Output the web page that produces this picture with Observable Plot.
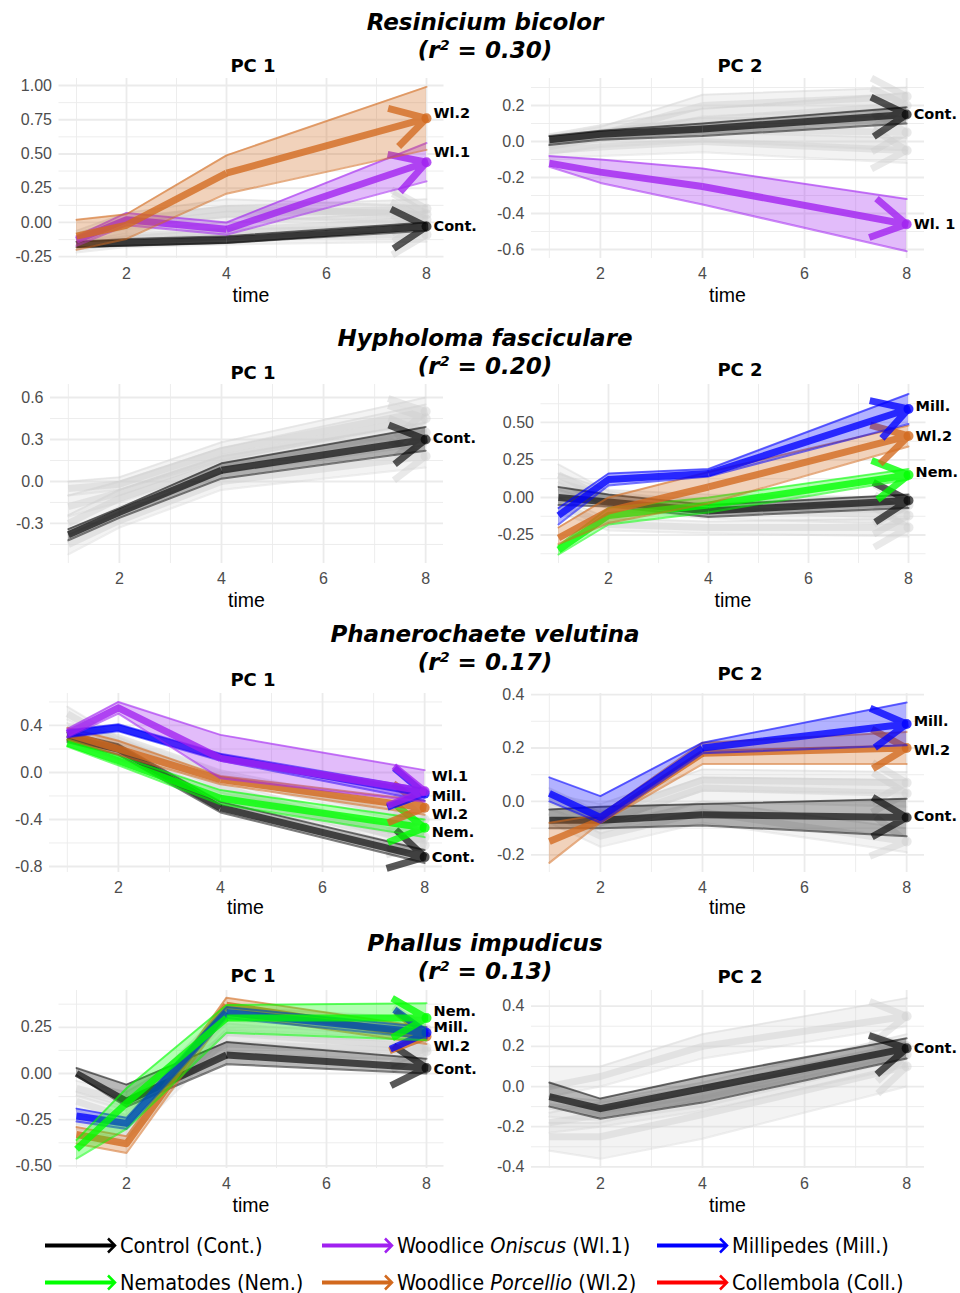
<!DOCTYPE html>
<html><head><meta charset="utf-8">
<script src="https://cdn.jsdelivr.net/npm/d3@7"></script>
<script src="https://cdn.jsdelivr.net/npm/@observablehq/plot@0.6"></script>
<style>
body{margin:0;background:#fff;}
#wrap{position:relative;width:960px;height:1293px;overflow:hidden;font-family:"DejaVu Sans",sans-serif;background:#fff;}
.t{position:absolute;transform:translate(-50%,-50%);white-space:nowrap;line-height:1;}
.sp{font-weight:bold;font-style:italic;font-size:23px;color:#000;}
.sp sup{font-size:62%;vertical-align:0.55em;line-height:0;}
.pc{font-weight:bold;font-size:18px;color:#000;}
.tm{font-family:"Liberation Sans",Arial,sans-serif;font-size:19.5px;color:#000;}
.panel{position:absolute;}
.leg{position:absolute;display:flex;align-items:center;font-family:"DejaVu Sans Condensed","DejaVu Sans",sans-serif;font-stretch:condensed;font-size:21.5px;color:#000;white-space:nowrap;transform:translateY(-50%);}
.leg svg{margin-right:3px;}
</style></head><body><div id="wrap"></div>
<script>
// ---------------- DATA ----------------
const times = [1, 2, 4, 8];
const xTicks = [2, 4, 6, 8];

// Resinicium bicolor (r2 = 0.30)
const rb1_ticks = [-0.25, 0, 0.25, 0.5, 0.75, 1.0];
const rb1_cont = {m:[-0.16,-0.15,-0.13,-0.03], lo:[-0.18,-0.17,-0.15,-0.06], hi:[-0.14,-0.12,-0.10,0.00]};
const rb1_wl1  = {m:[-0.13,0.02,-0.05,0.44], lo:[-0.17,-0.02,-0.09,0.30], hi:[-0.10,0.07,0.00,0.58]};
const rb1_wl2  = {m:[-0.10,-0.02,0.36,0.76], lo:[-0.20,-0.12,0.21,0.53], hi:[0.02,0.06,0.49,0.99]};
const rb1_grey = [
  {m:[-0.12,-0.02,0.06,0.10], lo:[-0.16,-0.07,0.00,0.04], hi:[-0.08,0.03,0.12,0.17]},
  {m:[-0.16,-0.10,-0.06,0.02], lo:[-0.20,-0.15,-0.12,-0.05], hi:[-0.12,-0.05,0.00,0.08]},
  {m:[-0.10,0.02,0.10,0.06], lo:[-0.14,-0.03,0.04,0.00], hi:[-0.06,0.07,0.17,0.12]},
  {m:[-0.18,-0.14,-0.10,-0.09], lo:[-0.22,-0.18,-0.16,-0.14], hi:[-0.14,-0.10,-0.05,-0.02]}
];
const rb1_labels = [{name:"Wl.2", v:0.80}, {name:"Wl.1", v:0.51}, {name:"Cont.", v:-0.03}];

const rb2_ticks = [-0.6, -0.4, -0.2, 0, 0.2];
const rb2_cont = {m:[0.01,0.04,0.07,0.15], lo:[-0.02,0.01,0.03,0.10], hi:[0.03,0.06,0.10,0.19]};
const rb2_wl1  = {m:[-0.12,-0.17,-0.25,-0.46], lo:[-0.14,-0.23,-0.35,-0.61], hi:[-0.08,-0.10,-0.15,-0.32]};
const rb2_grey = [
  {m:[0.00,0.04,0.20,0.25], lo:[-0.03,0.00,0.14,0.18], hi:[0.03,0.08,0.26,0.30]},
  {m:[-0.03,0.02,0.07,0.05], lo:[-0.07,-0.03,0.00,-0.05], hi:[0.01,0.06,0.13,0.14]},
  {m:[-0.05,-0.03,0.00,-0.05], lo:[-0.09,-0.08,-0.06,-0.12], hi:[-0.01,0.02,0.05,0.02]},
  {m:[0.01,0.05,0.12,0.20], lo:[-0.02,0.01,0.06,0.12], hi:[0.04,0.09,0.18,0.27]}
];
const rb2_labels = [{name:"Cont.", v:0.15}, {name:"Wl. 1", v:-0.46}];

// Hypholoma fasciculare (r2 = 0.20)
const hf1_ticks = [-0.3, 0, 0.3, 0.6];
const hf1_cont = {m:[-0.38,-0.22,0.08,0.30], lo:[-0.42,-0.26,0.02,0.22], hi:[-0.34,-0.19,0.13,0.39]};
const hf1_grey = [
  {m:[-0.05,-0.02,0.22,0.50], lo:[-0.10,-0.06,0.15,0.42], hi:[0.00,0.03,0.28,0.60]},
  {m:[-0.18,-0.08,0.17,0.45], lo:[-0.25,-0.15,0.10,0.36], hi:[-0.10,0.00,0.24,0.55]},
  {m:[-0.45,-0.28,0.00,0.18], lo:[-0.52,-0.33,-0.06,0.10], hi:[-0.38,-0.22,0.06,0.26]},
  {m:[-0.30,-0.12,0.12,0.35], lo:[-0.36,-0.18,0.06,0.28], hi:[-0.24,-0.06,0.18,0.42]}
];
const hf1_labels = [{name:"Cont.", v:0.31}];

const hf2_ticks = [-0.25, 0, 0.25, 0.5];
const hf2_cont = {m:[0.00,-0.03,-0.09,-0.02], lo:[-0.05,-0.06,-0.13,-0.07], hi:[0.07,0.02,-0.05,0.02]};
const hf2_mill = {m:[-0.12,0.12,0.16,0.59], lo:[-0.18,0.08,0.14,0.49], hi:[-0.07,0.16,0.19,0.69]};
const hf2_wl2  = {m:[-0.27,-0.09,0.07,0.41], lo:[-0.31,-0.17,-0.04,0.34], hi:[-0.20,0.00,0.17,0.48]};
const hf2_nem  = {m:[-0.35,-0.12,-0.05,0.15], lo:[-0.38,-0.18,-0.10,0.12], hi:[-0.32,-0.07,0.00,0.19]};
const hf2_grey = [
  {m:[0.15,-0.02,-0.08,-0.12], lo:[0.10,-0.08,-0.14,-0.18], hi:[0.22,0.04,-0.03,-0.06]},
  {m:[-0.05,-0.18,-0.20,-0.20], lo:[-0.10,-0.22,-0.24,-0.26], hi:[0.00,-0.14,-0.16,-0.14]},
  {m:[0.10,0.00,-0.03,-0.05], lo:[0.05,-0.05,-0.08,-0.10], hi:[0.16,0.05,0.02,0.00]}
];
const hf2_labels = [{name:"Mill.", v:0.61}, {name:"Wl.2", v:0.41}, {name:"Nem.", v:0.17}];

// Phanerochaete velutina (r2 = 0.17)
const pv1_ticks = [-0.8, -0.4, 0, 0.4];
const pv1_cont = {m:[0.30,0.20,-0.30,-0.72], lo:[0.26,0.15,-0.34,-0.77], hi:[0.34,0.24,-0.25,-0.66]};
const pv1_wl1  = {m:[0.33,0.55,0.12,-0.16], lo:[0.30,0.50,-0.05,-0.25], hi:[0.37,0.60,0.32,0.02]};
const pv1_mill = {m:[0.33,0.38,0.13,-0.18], lo:[0.30,0.35,0.10,-0.24], hi:[0.36,0.41,0.16,-0.14]};
const pv1_wl2  = {m:[0.33,0.20,-0.06,-0.30], lo:[0.28,0.15,-0.10,-0.36], hi:[0.38,0.27,-0.03,-0.24]};
const pv1_nem  = {m:[0.25,0.10,-0.22,-0.47], lo:[0.22,0.06,-0.27,-0.55], hi:[0.28,0.14,-0.15,-0.40]};
const pv1_grey = [
  {m:[0.50,0.25,-0.12,-0.62], lo:[0.45,0.20,-0.17,-0.68], hi:[0.56,0.30,-0.07,-0.56]},
  {m:[0.38,0.28,-0.02,-0.40], lo:[0.34,0.24,-0.06,-0.46], hi:[0.42,0.32,0.02,-0.34]},
  {m:[0.30,0.15,-0.22,-0.55], lo:[0.26,0.11,-0.27,-0.60], hi:[0.34,0.19,-0.17,-0.50]}
];
const pv1_labels = [{name:"Wl.1", v:-0.03}, {name:"Mill.", v:-0.20}, {name:"Wl.2", v:-0.36}, {name:"Nem.", v:-0.51}, {name:"Cont.", v:-0.72}];

const pv2_ticks = [-0.2, 0, 0.2, 0.4];
const pv2_cont = {m:[-0.07,-0.07,-0.05,-0.06], lo:[-0.10,-0.10,-0.09,-0.13], hi:[-0.03,-0.02,-0.01,0.01]};
const pv2_mill = {m:[0.03,-0.06,0.20,0.29], lo:[0.00,-0.08,0.18,0.21], hi:[0.09,0.02,0.22,0.37]};
const pv2_wl2  = {m:[-0.15,-0.07,0.18,0.20], lo:[-0.23,-0.08,0.14,0.14], hi:[-0.08,-0.05,0.22,0.26]};
const pv2_grey = [
  {m:[0.02,-0.08,0.05,0.03], lo:[-0.02,-0.12,0.00,-0.02], hi:[0.05,-0.04,0.09,0.08]},
  {m:[-0.04,-0.13,-0.04,-0.15], lo:[-0.08,-0.17,-0.08,-0.19], hi:[0.00,-0.09,0.00,-0.10]},
  {m:[0.00,-0.05,0.08,0.07], lo:[-0.03,-0.09,0.04,0.03], hi:[0.03,-0.01,0.12,0.11]}
];
const pv2_labels = [{name:"Mill.", v:0.30}, {name:"Wl.2", v:0.19}, {name:"Cont.", v:-0.056}];

// Phallus impudicus (r2 = 0.13)
const pi1_ticks = [-0.5, -0.25, 0, 0.25];
const pi1_cont = {m:[0.00,-0.15,0.10,0.03], lo:[-0.01,-0.18,0.05,0.00], hi:[0.03,-0.06,0.17,0.08]};
const pi1_nem  = {m:[-0.41,-0.16,0.30,0.30], lo:[-0.46,-0.30,0.22,0.18], hi:[-0.36,-0.08,0.37,0.38]};
const pi1_mill = {m:[-0.23,-0.27,0.33,0.22], lo:[-0.26,-0.30,0.30,0.19], hi:[-0.19,-0.24,0.36,0.25]};
const pi1_wl2  = {m:[-0.33,-0.38,0.37,0.20], lo:[-0.38,-0.43,0.32,0.16], hi:[-0.29,-0.34,0.41,0.25]};
const pi1_grey = [
  {m:[-0.15,-0.24,0.30,0.24], lo:[-0.20,-0.30,0.24,0.18], hi:[-0.10,-0.18,0.36,0.30]},
  {m:[-0.26,-0.32,0.22,0.14], lo:[-0.30,-0.36,0.17,0.09], hi:[-0.22,-0.28,0.27,0.19]},
  {m:[-0.08,-0.15,0.16,0.12], lo:[-0.12,-0.20,0.11,0.07], hi:[-0.04,-0.10,0.21,0.17]}
];
const pi1_labels = [{name:"Nem.", v:0.335}, {name:"Mill.", v:0.25}, {name:"Wl.2", v:0.146}, {name:"Cont.", v:0.02}];

const pi2_ticks = [-0.4, -0.2, 0, 0.2, 0.4];
const pi2_cont = {m:[-0.05,-0.11,-0.01,0.19], lo:[-0.10,-0.16,-0.08,0.14], hi:[0.02,-0.06,0.05,0.24]};
const pi2_grey = [
  {m:[0.00,0.05,0.20,0.35], lo:[-0.05,0.00,0.14,0.30], hi:[0.10,0.10,0.26,0.44]},
  {m:[-0.25,-0.25,-0.14,0.10], lo:[-0.32,-0.36,-0.26,0.00], hi:[-0.18,-0.18,-0.06,0.16]},
  {m:[-0.10,-0.12,-0.04,0.20], lo:[-0.15,-0.17,-0.10,0.14], hi:[-0.05,-0.07,0.02,0.26]},
  {m:[-0.18,-0.14,-0.06,0.16], lo:[-0.23,-0.20,-0.12,0.10], hi:[-0.13,-0.08,0.00,0.22]}
];
const pi2_labels = [{name:"Cont.", v:0.19}];

// Legend
const legendNames = ["Control (Cont.)", "Woodlice <i>Oniscus</i> (Wl.1)", "Millipedes (Mill.)",
                     "Nematodes (Nem.)", "Woodlice <i>Porcellio</i> (Wl.2)", "Collembola (Coll.)"];
const species = ["Resinicium bicolor", "Hypholoma fasciculare", "Phanerochaete velutina", "Phallus impudicus"];
const r2 = ["0.30", "0.20", "0.17", "0.13"];

// ---------------- STYLE ----------------
const COL = {cont:"#000000", wl1:"#A020F0", mill:"#0000FF", nem:"#00FF00", wl2:"#D2691E", coll:"#FF0000", grey:"#cfcfcf"};
const legendColors = [COL.cont, COL.wl1, COL.mill, COL.nem, COL.wl2, COL.coll];

function rows(g){ return times.map((t,i)=>({t, m:g.m[i], lo:g.lo[i], hi:g.hi[i]})); }

function groupMarks(g, color, kind){
  const st = kind === "grey" ? {fo:0.25, eo:0.35, mo:0.45}
           : kind === "cont" ? {fo:0.28, eo:0.5, mo:0.65}
           : {fo:0.3, eo:0.55, mo:0.78};
  const d = rows(g);
  const n = d.length;
  const seg = [{x1:d[n-2].t, y1:d[n-2].m, x2:d[n-1].t, y2:d[n-1].m}];
  return [
    Plot.areaY(d, {x:"t", y1:"lo", y2:"hi", fill:color, fillOpacity:st.fo}),
    Plot.line(d, {x:"t", y:"lo", stroke:color, strokeOpacity:st.eo, strokeWidth:2}),
    Plot.line(d, {x:"t", y:"hi", stroke:color, strokeOpacity:st.eo, strokeWidth:2}),
    Plot.line(d.slice(0, n-1), {x:"t", y:"m", stroke:color, strokeOpacity:st.mo, strokeWidth:7, strokeLinecap:"butt"}),
    Plot.arrow(seg, {x1:"x1", y1:"y1", x2:"x2", y2:"y2", stroke:color, strokeOpacity:st.mo, strokeWidth:7, headLength:8.5, headAngle:60, strokeLinecap:"butt", strokeLinejoin:"miter"}),
    Plot.dot([d[n-1]], {x:"t", y:"m", r:5, fill:color, fillOpacity:st.mo})
  ];
}

function minorOf(ticks, dom){
  const step = ticks[1]-ticks[0];
  const out = [];
  for (let v = ticks[0]-step/2; v <= ticks[ticks.length-1]+step/2+1e-9; v += step) if (v >= dom[0] && v <= dom[1]) out.push(v);
  return out;
}

const wrap = document.getElementById("wrap");

function panel(cfg){
  const {left, top, bottom, L, R, dom, ticks, dec, grey, groups, labels} = cfg;
  const mt = 10, mb = 32;
  const marks = [
    Plot.ruleY(minorOf(ticks, dom), {stroke:"#ebebeb", strokeWidth:0.9}),
    Plot.ruleX([1,3,5,7], {stroke:"#ebebeb", strokeWidth:0.9}),
    Plot.ruleY(ticks, {stroke:"#ebebeb", strokeWidth:1.8}),
    Plot.ruleX(xTicks, {stroke:"#ebebeb", strokeWidth:1.8}),
    Plot.axisY({ticks, tickFormat:d=>d.toFixed(dec), tickSize:0, tickPadding:7, label:null, fontSize:16, color:"#4d4d4d"}),
    Plot.axisX({ticks:xTicks, tickFormat:d=>String(d), tickSize:0, tickPadding:9, label:null, fontSize:16, color:"#4d4d4d"})
  ];
  for (const g of grey) marks.push(...groupMarks(g, COL.grey, "grey"));
  for (const [g, key] of groups) marks.push(...groupMarks(g, COL[key], key === "cont" ? "cont" : "col"));
  marks.push(Plot.text(labels, {x:()=>8, y:"v", text:"name", dx:7, textAnchor:"start", fontWeight:"bold", fontSize:14.5, fill:"#000", fontFamily:"DejaVu Sans"}));
  const svg = Plot.plot({
    width: 480, height: (bottom - top) + mt + mb,
    marginLeft: L - left, marginRight: 480 - (R - left), marginTop: mt, marginBottom: mb,
    x: {domain:[0.65, 8.35]}, y: {domain: dom},
    style: {fontFamily:'"Liberation Sans", Arial, sans-serif', fontSize:"16px", overflow:"visible", background:"transparent"},
    marks
  });
  const div = document.createElement("div");
  div.className = "panel";
  div.style.left = left + "px";
  div.style.top = (top - mt) + "px";
  div.appendChild(svg);
  wrap.appendChild(div);
}

function txt(cls, html, x, y){
  const d = document.createElement("div");
  d.className = "t " + cls; d.innerHTML = html;
  d.style.left = x + "px"; d.style.top = y + "px";
  wrap.appendChild(d);
}

// rows of panels
const rowsCfg = [
  {top:78, bottom:258, tY:[22,50], pcY:[66,66], timeY:296},
  {top:384, bottom:563, tY:[338,366], pcY:[373,370], timeY:601},
  {top:693, bottom:872, tY:[634,662], pcY:[680,674], timeY:908},
  {top:990, bottom:1168, tY:[943,971], pcY:[976,977], timeY:1206}
];

const panels = [
  {row:0, left:0, L:58.5, R:443.5, dom:[-0.263,1.051], ticks:rb1_ticks, dec:2, grey:rb1_grey, groups:[[rb1_cont,"cont"],[rb1_wl1,"wl1"],[rb1_wl2,"wl2"]], labels:rb1_labels},
  {row:0, left:480, L:531, R:924, dom:[-0.65,0.35], ticks:rb2_ticks, dec:1, grey:rb2_grey, groups:[[rb2_cont,"cont"],[rb2_wl1,"wl1"]], labels:rb2_labels},
  {row:1, left:0, L:50, R:443, dom:[-0.586,0.693], ticks:hf1_ticks, dec:1, grey:hf1_grey, groups:[[hf1_cont,"cont"]], labels:hf1_labels},
  {row:1, left:480, L:540.5, R:925.5, dom:[-0.44,0.753], ticks:hf2_ticks, dec:2, grey:hf2_grey, groups:[[hf2_cont,"cont"],[hf2_nem,"nem"],[hf2_wl2,"wl2"],[hf2_mill,"mill"]], labels:hf2_labels},
  {row:2, left:0, L:49, R:442, dom:[-0.851,0.672], ticks:pv1_ticks, dec:1, grey:pv1_grey, groups:[[pv1_cont,"cont"],[pv1_nem,"nem"],[pv1_wl2,"wl2"],[pv1_mill,"mill"],[pv1_wl1,"wl1"]], labels:pv1_labels},
  {row:2, left:480, L:531, R:924, dom:[-0.266,0.404], ticks:pv2_ticks, dec:1, grey:pv2_grey, groups:[[pv2_cont,"cont"],[pv2_wl2,"wl2"],[pv2_mill,"mill"]], labels:pv2_labels},
  {row:3, left:0, L:58.5, R:443.5, dom:[-0.514,0.449], ticks:pi1_ticks, dec:2, grey:pi1_grey, groups:[[pi1_cont,"cont"],[pi1_wl2,"wl2"],[pi1_mill,"mill"],[pi1_nem,"nem"]], labels:pi1_labels},
  {row:3, left:480, L:531, R:924, dom:[-0.408,0.478], ticks:pi2_ticks, dec:1, grey:pi2_grey, groups:[[pi2_cont,"cont"]], labels:pi2_labels}
];

for (const p of panels){
  const r = rowsCfg[p.row];
  panel({...p, top:r.top, bottom:r.bottom});
  const isLeft = p.left === 0;
  txt("pc", isLeft ? "PC 1" : "PC 2", isLeft ? 253 : 740, r.pcY[isLeft ? 0 : 1]);
  txt("tm", "time", (p.L + p.R)/2, r.timeY);
}
rowsCfg.forEach((r, i) => {
  txt("sp", species[i], 485, r.tY[0]);
  txt("sp", "(r<sup>2</sup> = " + r2[i] + ")", 485, r.tY[1]);
});

// legend
const legPos = [[45,1245],[322,1245],[657,1245],[45,1282],[322,1282],[657,1282]];
legendNames.forEach((name, i) => {
  const d = document.createElement("div");
  d.className = "leg";
  d.style.left = legPos[i][0] + "px"; d.style.top = legPos[i][1] + "px";
  const c = legendColors[i];
  d.innerHTML = `<svg width="72" height="18" style="overflow:visible"><line x1="0" y1="9" x2="69" y2="9" stroke="${c}" stroke-width="4"/><polyline points="63,2 70,9 63,16" fill="none" stroke="${c}" stroke-width="2.5"/></svg><span>${name}</span>`;
  wrap.appendChild(d);
});
</script></body></html>
